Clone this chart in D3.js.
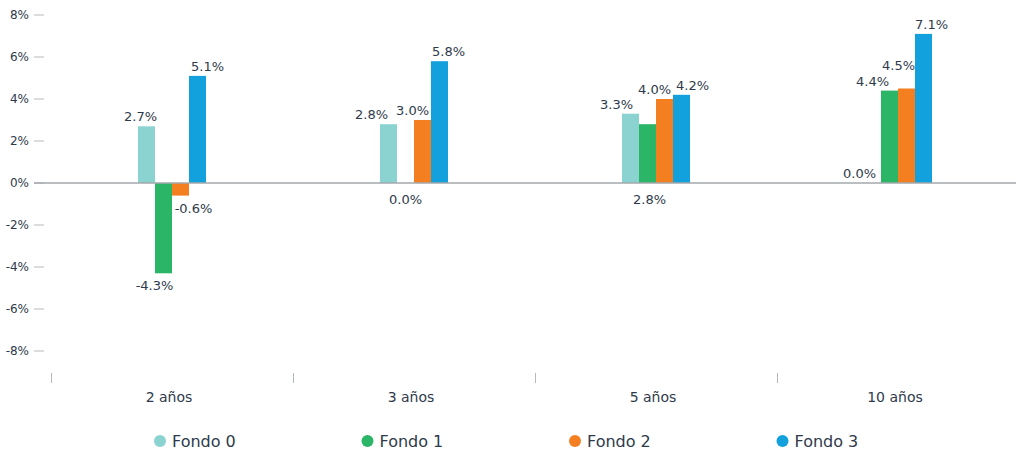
<!DOCTYPE html>
<html>
<head>
<meta charset="utf-8">
<script src="https://cdn.jsdelivr.net/npm/d3@7/dist/d3.min.js"></script>
<style>
  html, body { margin: 0; padding: 0; background: #fff; }
  svg { display: block; font-family: "DejaVu Sans", Verdana, sans-serif; }
</style>
</head>
<body>
<svg id="chart" width="1016" height="452"></svg>
<script>
// Rentabilidad anualizada por fondo y plazo
const categories = ["2 años", "3 años", "5 años", "10 años"];
const seriesNames = ["Fondo 0", "Fondo 1", "Fondo 2", "Fondo 3"];
const fondo0 = [2.7, 2.8, 3.3, 0.0];
const fondo1 = [-4.3, 0.0, 2.8, 4.4];
const fondo2 = [-0.6, 3.0, 4.0, 4.5];
const fondo3 = [5.1, 5.8, 4.2, 7.1];
const yTicks = [-8, -6, -4, -2, 0, 2, 4, 6, 8];

const colors = ["#8ad3d1", "#2bb567", "#f47f21", "#12a1dc"];
const textColor = "#2e3a4b";

// Label layout: horizontal / vertical nudges per label (px) and labels drawn under the zero line
const labelNudge = [
  [-6, -9, 13, 10],
  [-17, 0, -10, 9],
  [-14, 2, -10, 11],
  [-13, -17, -8, 8]
];
const labelLift = [
  [0, 0, 0, 0],
  [0, 0, 0, 0],
  [0, 0, 0, 0],
  [0, 0, 14, 0]
];
const labelUnderAxis = [
  [false, false, false, false],
  [false, true, false, false],
  [false, true, false, false],
  [false, false, false, false]
];

const seriesValues = [fondo0, fondo1, fondo2, fondo3];
const rows = categories.map((c, i) => ({
  cat: c,
  idx: i,
  vals: seriesValues.map((s, k) => ({ key: seriesNames[k], k, v: s[i] }))
}));

const svg = d3.select("#chart");

const x = d3.scaleBand().domain(categories).range([51, 1019]).paddingInner(0).paddingOuter(0);
const groupWidth = 68;
const x1 = d3.scaleBand().domain(seriesNames).range([0, groupWidth]).padding(0);
const y = d3.scaleLinear().domain([-8, 8]).range([351, 15]);

// Y axis: labels and short ticks
const yAxis = svg.append("g");
yAxis.selectAll("line.tick").data(yTicks).join("line")
  .attr("x1", 34).attr("x2", 44)
  .attr("y1", d => y(d)).attr("y2", d => y(d))
  .attr("stroke", "#b5b9bd").attr("stroke-width", 1);
yAxis.selectAll("text").data(yTicks).join("text")
  .attr("x", 29).attr("y", d => y(d))
  .attr("dy", "0.35em")
  .attr("text-anchor", "end")
  .attr("font-size", 12)
  .attr("fill", textColor)
  .text(d => d + "%");

// Category ticks and labels
const xAxis = svg.append("g");
xAxis.selectAll("line").data(categories).join("line")
  .attr("x1", d => Math.round(x(d)) + 0.5).attr("x2", d => Math.round(x(d)) + 0.5)
  .attr("y1", 373).attr("y2", 383)
  .attr("stroke", "#b5b9bd").attr("stroke-width", 1);
xAxis.selectAll("text").data(categories).join("text")
  .attr("x", d => x(d) + x.bandwidth() / 2 - 3)
  .attr("y", 402)
  .attr("text-anchor", "middle")
  .attr("font-size", 14)
  .attr("fill", textColor)
  .text(d => d);

// Bars
const groups = svg.append("g").selectAll("g").data(rows).join("g")
  .attr("transform", d => `translate(${x(d.cat) + x.bandwidth() / 2 - groupWidth / 2},0)`);

groups.selectAll("rect").data(d => d.vals).join("rect")
  .attr("x", d => x1(d.key))
  .attr("width", x1.bandwidth())
  .attr("y", d => y(Math.max(0, d.v)))
  .attr("height", d => Math.abs(y(d.v) - y(0)))
  .attr("fill", d => colors[d.k]);

// Zero line
svg.append("line")
  .attr("x1", 34).attr("x2", 1016)
  .attr("y1", y(0)).attr("y2", y(0))
  .attr("stroke", "#a3a8ad").attr("stroke-width", 1.5);

// Value labels
groups.each(function (row) {
  d3.select(this).selectAll("text").data(row.vals).join("text")
    .attr("x", d => x1(d.key) + x1.bandwidth() / 2 + labelNudge[row.idx][d.k])
    .attr("y", d => {
      if (labelUnderAxis[row.idx][d.k]) return y(0) + 21;
      if (d.v < 0) return y(d.v) + 17;
      return y(d.v) - 5 - labelLift[row.idx][d.k];
    })
    .attr("text-anchor", "middle")
    .attr("font-size", 13)
    .attr("fill", textColor)
    .text(d => d.v.toFixed(1) + "%");
});

// Legend
const legend = svg.append("g").selectAll("g").data(seriesNames).join("g")
  .attr("transform", (d, i) => `translate(${160 + i * 207.5},441)`);
legend.append("circle").attr("r", 6).attr("fill", (d, i) => colors[i]);
legend.append("text")
  .attr("x", 12).attr("y", 0).attr("dy", "0.36em")
  .attr("font-size", 16)
  .attr("fill", textColor)
  .text(d => d);
</script>
</body>
</html>
